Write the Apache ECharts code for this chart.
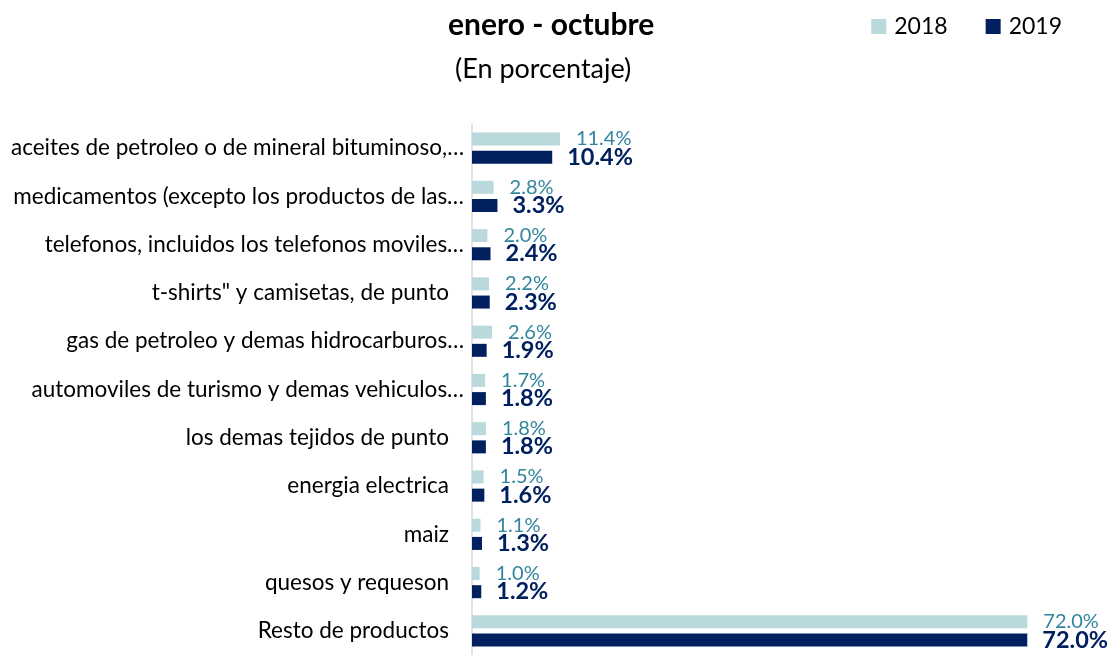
<!DOCTYPE html>
<html>
<head>
<meta charset="utf-8">
<script src="https://cdn.jsdelivr.net/npm/echarts@6/dist/echarts.min.js"></script>
<style>
  html, body { margin: 0; padding: 0; background: #fff; }
  #chart { width: 1112px; height: 655px; }
</style>
</head>
<body>
<div id="chart"></div>
<script>
  // categorias (de arriba hacia abajo)
  var categorias = [
    'aceites de petroleo o de mineral bituminoso,…',
    'medicamentos (excepto los productos de las…',
    'telefonos, incluidos los telefonos moviles…',
    't-shirts" y camisetas, de punto',
    'gas de petroleo y demas hidrocarburos…',
    'automoviles de turismo y demas vehiculos…',
    'los demas tejidos de punto',
    'energia electrica',
    'maiz',
    'quesos y requeson',
    'Resto de productos'
  ];
  var valores2018 = [11.4, 2.8, 2.0, 2.2, 2.6, 1.7, 1.8, 1.5, 1.1, 1.0, 72.0];
  var valores2019 = [10.4, 3.3, 2.4, 2.3, 1.9, 1.8, 1.8, 1.6, 1.3, 1.2, 72.0];

  var fuente = 'Lato, "Open Sans", sans-serif';
  var chart = echarts.init(document.getElementById('chart'));

  chart.setOption({
    animation: false,
    textStyle: { fontFamily: fuente },
    title: [{
      text: 'enero - octubre',
      left: 443,
      top: 5,
      textStyle: { fontSize: 30, fontWeight: 'bold', color: '#000', fontFamily: fuente }
    }, {
      text: '(En porcentaje)',
      left: 450,
      top: 51,
      textStyle: { fontSize: 27, fontWeight: 'normal', color: '#000', fontFamily: fuente }
    }],
    legend: {
      right: 45,
      top: 10,
      itemWidth: 15,
      itemHeight: 15,
      itemGap: 38,
      icon: 'rect',
      textStyle: { fontSize: 23, color: '#000', fontFamily: fuente, padding: [0, 0, 0, 3] },
      data: ['2018', '2019']
    },
    grid: {
      left: 472,
      top: 124,
      width: 617,
      height: 537,
      containLabel: false
    },
    xAxis: {
      type: 'value',
      min: 0,
      max: 80,
      show: false
    },
    yAxis: {
      type: 'category',
      inverse: true,
      data: categorias,
      axisTick: { show: false },
      axisLine: { show: true, lineStyle: { color: '#d9d9d9', width: 1.5 } },
      axisLabel: {
        margin: 8,
        formatter: function (v) {
          return v.slice(-1) === '…' ? '{a|' + v + '}' : '{b|' + v + '}';
        },
        rich: {
          a: { fontSize: 22.5, color: '#000', fontFamily: fuente },
          b: { fontSize: 22.5, color: '#000', fontFamily: fuente, padding: [0, 15, 0, 0] }
        }
      }
    },
    series: [{
      name: '2018',
      type: 'bar',
      data: valores2018,
      barWidth: 13,
      barGap: '40%',
      itemStyle: { color: '#b9d9dc' },
      label: {
        show: true,
        position: 'right',
        distance: 16,
        color: '#31859c',
        fontSize: 20,
        fontFamily: fuente,
        formatter: function (p) { return p.value.toFixed(1) + '%'; }
      }
    }, {
      name: '2019',
      type: 'bar',
      data: valores2019,
      barWidth: 13,
      itemStyle: { color: '#002060' },
      label: {
        show: true,
        position: 'right',
        distance: 15,
        color: '#002060',
        fontSize: 23.5,
        fontWeight: 'bold',
        fontFamily: fuente,
        formatter: function (p) { return p.value.toFixed(1) + '%'; }
      }
    }]
  });
</script>
</body>
</html>
